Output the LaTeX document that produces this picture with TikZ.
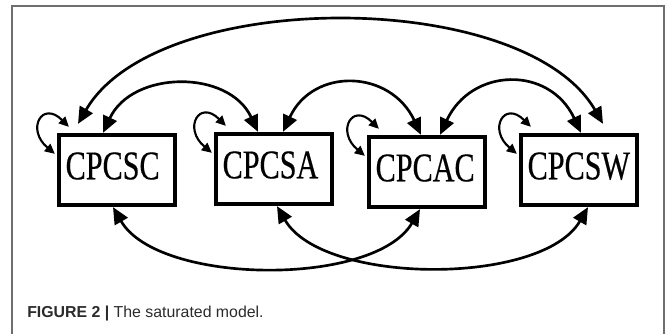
\documentclass[tikz,border=0pt]{standalone}
\usepackage{fontspec}
\setmainfont{Liberation Serif}
\newfontfamily\boxfont[FakeStretch=0.74,FakeBold=0.4]{Liberation Serif}
\newfontfamily\capfont{Liberation Sans}
\usetikzlibrary{arrows.meta,calc}
\definecolor{framegray}{HTML}{6E6E6E}
\definecolor{captiongray}{HTML}{2B2B2B}
\tikzset{
	varbox/.style={draw,line width=3.2pt,inner xsep=5pt,text width=77pt,align=left,minimum height=52.5pt,text height=20pt,text depth=6pt,font=\boxfont\fontsize{30.6}{32}\selectfont},
	corr/.style={line width=2pt,{Triangle[length=12.5pt,width=11pt]}-{Triangle[length=12.5pt,width=11pt]}},
	selfloop/.style={line width=1.6pt,{Triangle[length=7.5pt,width=7pt]}-{Triangle[length=7.5pt,width=7pt]}}
}
\begin{document}
\begin{tikzpicture}[x=0.75pt,y=0.75pt]
		\useasboundingbox (0,0) rectangle (667,334);
		\draw[framegray,line width=1.3pt] (12,0) -- (12,328) -- (664,328) -- (664,0);
		\node[varbox] (CPCSC) at (117,164) {CPCSC};
		\node[varbox] (CPCSA) at (274,165) {CPCSA};
		\node[varbox] (CPCAC) at (427,162) {CPCAC};
		\node[varbox] (CPCSW) at (579,164) {CPCSW};
		\draw[corr] ($(CPCSC.north)+(-39,9)$) to[out=60,in=120,looseness=0.77] ($(CPCSW.north)+(24,9)$);
		\draw[corr] ($(CPCSC.north)+(-14,0)$) to[out=65,in=115,looseness=1.14] ($(CPCSA.north)+(-16,0)$);
		\draw[corr] ($(CPCSA.north)+(9,0)$) to[out=65,in=115,looseness=1.33] ($(CPCAC.north)+(-6,0)$);
		\draw[corr] ($(CPCAC.north)+(13,0)$) to[out=65,in=115,looseness=1.35] ($(CPCSW.north)+(2,0)$);
		\draw[corr] ($(CPCSC.south)+(-4,0)$) to[out=-60,in=-120,looseness=0.75] ($(CPCAC.south)+(-7,0)$);
		\draw[corr] ($(CPCSA.south)+(3,0)$) to[out=-60,in=-120,looseness=0.75] ($(CPCSW.south)+(9,0)$);
		\foreach \v in {CPCSC,CPCSA,CPCAC,CPCSW}
			\draw[selfloop] ($(\v.north west)+(12,6)$) to[out=135,in=140,looseness=3.2] ($(\v.north west)+(-2,-21)$);
		\node[anchor=base west,inner sep=0,text=captiongray,font=\capfont\fontsize{11.9}{14}\selectfont] (caption) at (27,16) {\textbf{FIGURE 2 |} The saturated model.};
\end{tikzpicture}
\end{document}
